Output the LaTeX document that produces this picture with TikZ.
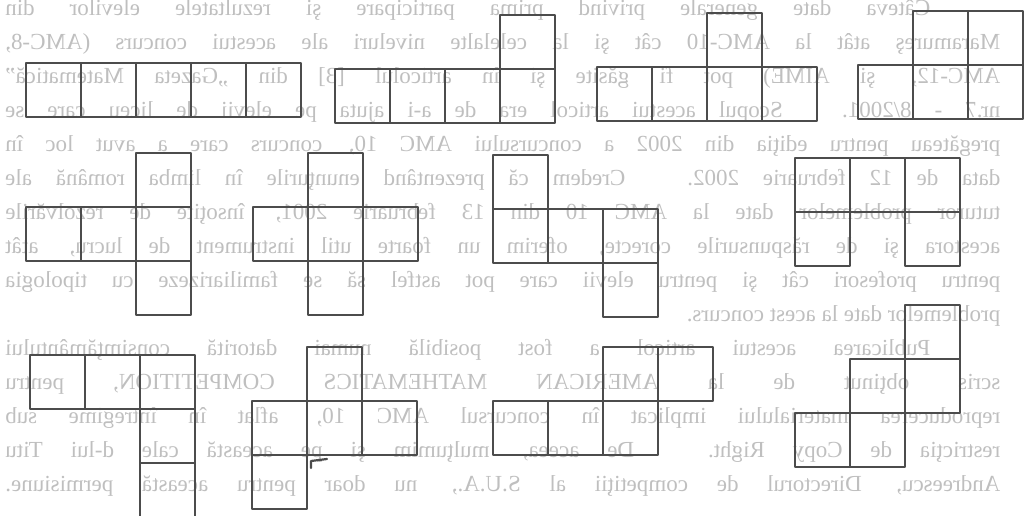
\documentclass[tikz,border=0pt]{standalone}
\usepackage{fontspec}
\setmainfont{Liberation Serif}
\usepackage{graphicx}
\tikzset{
  tile/.style={draw=black!70, line width=1.1pt, line join=round},
  cell/.style={x=27.5pt, y=-27pt},
  bleed/.style={text=black!25, inner sep=0pt, anchor=base west}
}
\begin{document}
\begin{tikzpicture}[x=0.5pt, y=-0.5pt, line cap=round]
  \useasboundingbox (0,0) rectangle (1024,515);
  \clip (0,0) rectangle (1024,515);

  % text showing through from the back of the sheet
  \node[bleed] (backpage) at (5,15) {\reflectbox{\parbox[t]{497.5pt}{%
    \fontsize{11.5}{17}\selectfont\tolerance=10000\hbadness=10000
    \setlength{\parindent}{35pt}%
    Câteva date generale privind prima participare şi rezultatele elevilor din\linebreak
    Maramureş atât la AMC-10 cât şi la celelalte niveluri ale acestui concurs (AMC-8,\linebreak
    AMC-12, şi AIME) pot fi găsite şi în articolul [3] din „Gazeta Matematică”\linebreak
    nr.7 - 8/2001. Scopul acestui articol era de a-i ajuta pe elevii de liceu care se\linebreak
    pregăteau pentru ediţia din 2002 a concursului AMC 10, concurs care a avut loc în\linebreak
    data de 12 februarie 2002. Credem că prezentând enunţurile în limba română ale\linebreak
    tuturor problemelor date la AMC 10 din 13 februarie 2001, însoţite de rezolvările\linebreak
    acestora şi de răspunsurile corecte, oferim un foarte util instrument de lucru, atât\linebreak
    pentru profesori cât şi pentru elevii care pot astfel să se familiarizeze cu tipologia\linebreak
    problemelor date la acest concurs.\par
    \parfillskip=0pt
    Publicarea acestui articol a fost posibilă numai datorită consimţământului\linebreak
    scris obţinut de la AMERICAN MATHEMATICS COMPETITION, pentru\linebreak
    reproducerea materialului implicat în concursul AMC 10, aflat în întregime sub\linebreak
    restricţia de Copy Right. De aceea, mulţumim şi pe această cale d-lui Titu\linebreak
    Andreescu, Directorul de competiţii al S.U.A., nu doar pentru această permisiune.\par}}};

  % top row
  \begin{scope}[shift={(26,63)}, cell]
    \foreach \c/\r in {0/0,1/0,2/0,3/0,4/0}
      \draw[tile] (\c,\r) rectangle ++(1,1);
  \end{scope}
  \begin{scope}[shift={(335,15)}, cell]
    \foreach \c/\r in {3/0,0/1,1/1,2/1,3/1}
      \draw[tile] (\c,\r) rectangle ++(1,1);
  \end{scope}
  \begin{scope}[shift={(597,13)}, cell]
    \foreach \c/\r in {2/0,0/1,1/1,2/1,3/1}
      \draw[tile] (\c,\r) rectangle ++(1,1);
  \end{scope}
  \begin{scope}[shift={(858,11)}, cell]
    \foreach \c/\r in {1/0,2/0,0/1,1/1,2/1}
      \draw[tile] (\c,\r) rectangle ++(1,1);
  \end{scope}

  % middle row
  \begin{scope}[shift={(26,153)}, cell]
    \foreach \c/\r in {2/0,0/1,1/1,2/1,2/2}
      \draw[tile] (\c,\r) rectangle ++(1,1);
  \end{scope}
  \begin{scope}[shift={(253,153)}, cell]
    \foreach \c/\r in {1/0,0/1,1/1,2/1,1/2}
      \draw[tile] (\c,\r) rectangle ++(1,1);
  \end{scope}
  \begin{scope}[shift={(493,155)}, cell]
    \foreach \c/\r in {0/0,0/1,1/1,2/1,2/2}
      \draw[tile] (\c,\r) rectangle ++(1,1);
  \end{scope}
  \begin{scope}[shift={(795,158)}, cell]
    \foreach \c/\r in {0/0,1/0,2/0,0/1,2/1}
      \draw[tile] (\c,\r) rectangle ++(1,1);
  \end{scope}

  % bottom row
  \begin{scope}[shift={(30,355)}, cell]
    \foreach \c/\r in {0/0,1/0,2/0,2/1,2/2}
      \draw[tile] (\c,\r) rectangle ++(1,1);
  \end{scope}
  \begin{scope}[shift={(252,347)}, cell]
    \foreach \c/\r in {1/0,0/1,1/1,2/1,0/2}
      \draw[tile] (\c,\r) rectangle ++(1,1);
  \end{scope}
  \begin{scope}[shift={(493,347)}, cell]
    \foreach \c/\r in {2/0,3/0,0/1,1/1,2/1}
      \draw[tile] (\c,\r) rectangle ++(1,1);
  \end{scope}
  \begin{scope}[shift={(795,305)}, cell]
    \foreach \c/\r in {2/0,1/1,2/1,0/2,1/2}
      \draw[tile] (\c,\r) rectangle ++(1,1);
  \end{scope}

  % pen mark
  \draw[tile] (311,468) -- (311,461) -- (327,459);
\end{tikzpicture}
\end{document}
